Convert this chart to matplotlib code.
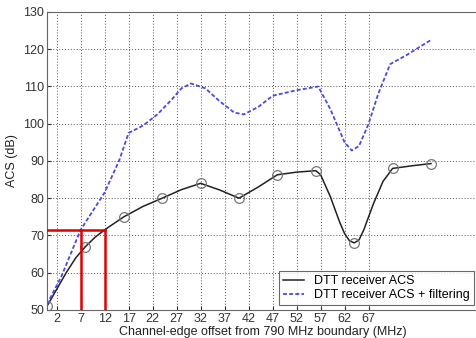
import numpy as np
import matplotlib
matplotlib.use("Agg")
import matplotlib.pyplot as plt

plt.rcParams['font.family'] = ['Liberation Sans', 'DejaVu Sans']

# receiver ACS measured at 8 MHz steps
acs_x = [0, 8, 16, 24, 32, 40, 48, 56, 64, 72, 80]
acs_y = [51, 67, 75, 80, 84, 80, 86.3, 87.4, 68, 88, 89.3]

# traced curve through the measured points
acs_line_x = [0, 2, 4, 6, 8, 10, 12, 16, 20, 24, 28, 32, 36, 40, 44, 48, 52,
              56, 57, 59, 61, 62, 63, 64, 65, 66, 68, 70, 72, 76, 80]
acs_line_y = [51, 55.5, 60, 64, 67, 69.5, 71.5, 75, 77.8, 80, 82.3, 84, 82.2,
              80, 83, 86.3, 87, 87.4, 86.3, 80.5, 73.5, 70.5, 68.6, 68, 68.8,
              71.5, 78.5, 84.5, 88, 88.7, 89.3]

# receiver ACS with extra filtering
filt_x = [0, 3, 7, 12, 15, 17, 20, 23, 26, 28, 30, 33, 36, 39, 41, 44, 47,
          52, 56.5, 59, 62, 63.5, 65, 67, 69, 71.5, 75, 80]
filt_y = [51.5, 59, 71.5, 81.5, 90, 97.5, 99.5, 102.5, 106.5, 109.5, 110.8,
          109.5, 106, 103, 102.5, 104.5, 107.5, 109, 110, 104, 95, 92.8, 94,
          100, 108, 116, 118.5, 122.5]

xticks = [2, 7, 12, 17, 22, 27, 32, 37, 42, 47, 52, 57, 62, 67]
yticks = [50, 60, 70, 80, 90, 100, 110, 120, 130]

# 71.5 dB requirement and the 7-12 MHz offsets that meet it
req_acs = 71.5
req_x = [7, 12]

fig = plt.figure(figsize=(4.76, 3.38), dpi=100)
ax = fig.add_axes([0.0987, 0.083, 0.9076, 0.8815])

ax.plot(acs_line_x, acs_line_y, color='#222222', lw=1.1, label='DTT receiver ACS')
ax.plot(filt_x, filt_y, color='#4a4ae0', lw=1.3, ls=(0, (2.2, 1.2)),
        label='DTT receiver ACS + filtering')
ax.plot(acs_x, acs_y, ls='none', marker='o', ms=7, mfc='none',
        mec='#777777', mew=0.9)

ax.plot([0, req_x[1]], [req_acs, req_acs], color='#e00000', lw=1.8, zorder=5)
for xv in req_x:
    ax.plot([xv, xv], [50, req_acs], color='#e00000', lw=1.8, zorder=5)

ax.set_xlim(0, 90)
ax.set_ylim(50, 130)
ax.set_xticks(xticks)
ax.set_yticks(yticks)
ax.tick_params(direction='in', length=3, labelsize=9, colors='#333333',
               pad=2, top=False, right=False)
ax.grid(True, ls=(0, (1, 2)), color='#555555', lw=0.7)
for s in ax.spines.values():
    s.set_color('#666666')
    s.set_linewidth(0.8)

ax.set_xlabel('Channel-edge offset from 790 MHz boundary (MHz)', fontsize=9,
              color='#222222', labelpad=1)
ax.set_ylabel('ACS (dB)', fontsize=9, color='#222222', labelpad=4)

leg = ax.legend(loc='lower right', bbox_to_anchor=(0.997, 0.005), fontsize=9,
                frameon=True, fancybox=False, edgecolor='#444444',
                handlelength=1.7, borderpad=0.3, labelspacing=0.15,
                borderaxespad=0.3)
leg.get_frame().set_linewidth(0.8)

fig.savefig('out.png', dpi=100)
